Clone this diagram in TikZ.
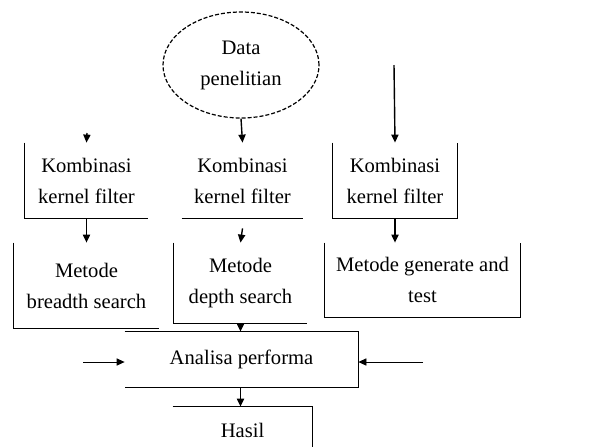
\documentclass[tikz,border=0pt]{standalone}
\usepackage{fontspec}
\setmainfont{Liberation Serif}
\usetikzlibrary{shapes.geometric, arrows.meta, positioning}
\tikzset{
  box/.style={rectangle, align=center, inner sep=0pt,
    font=\fontsize{10.3}{15.5}\selectfont},
  datanode/.style={ellipse, draw, dash pattern=on 2pt off 1pt,
    minimum width=78pt, minimum height=53pt, inner sep=0pt, align=center,
    font=\fontsize{10.3}{15.5}\selectfont, line width=0.6pt},
  arrow/.style={-{Triangle[length=4pt,width=3.6pt]}, line width=0.7pt},
  edge/.style={line width=0.8pt}
}
\begin{document}
\begin{tikzpicture}[x=0.5pt, y=-0.5pt]
  \useasboundingbox (0,0) rectangle (598,446);

  % Input data
  \node (data) at (241,65) [datanode] {Data\\penelitian};

  % Kernel filter combinations
  \node (kb1) at (86.5,180.5) [box, minimum width=61.5pt, minimum height=37.5pt] {Kombinasi\\kernel filter};
  \node (kb2) at (242.5,180.5) [box, minimum width=60.5pt, minimum height=37.5pt] {Kombinasi\\kernel filter};
  \node (kb3) at (395,180.5) [box, minimum width=62pt, minimum height=37.5pt] {Kombinasi\\kernel filter};

  % Search methods
  \node (mt1) at (86.5,285.5) [box, minimum width=72.5pt, minimum height=42.5pt] {Metode\\breadth search};
  \node (mt2) at (240.5,283) [box, minimum width=66.5pt, minimum height=40pt] {Metode\\depth search};
  \node (mt3) at (422.5,280) [box, minimum width=97.5pt, minimum height=37pt] {Metode generate and\\test};

  % Analysis and result
  \node (anl) at (241.5,359.5) [box, minimum width=116.5pt, minimum height=27.5pt] {Analisa performa};
  \node (hsl) at (242.5,430) [box, minimum width=69.5pt, minimum height=23pt] {Hasil};

  % Free arrow ends
  \coordinate (in1) at (87,133);
  \coordinate (in3) at (394,65);
  \coordinate (inL) at (83,362);
  \coordinate (inR) at (423,362);

  % Visible box edges
  \draw[edge] (kb1.north west) |- (kb1.south east);
  \draw[edge] (kb2.south west) -- (kb2.south east);
  \draw[edge] (kb3.north west) |- (kb3.south east) -- (kb3.north east);
  \draw[edge] (mt1.north west) |- (mt1.south east);
  \draw[edge] (mt2.north west) |- (mt2.south east);
  \draw[edge] (mt3.north west) |- (mt3.south east) -- (mt3.north east);
  \draw[edge] (anl.north west) -| (anl.south east) -- (anl.south west);
  \draw[edge] (hsl.north west) -| (hsl.south east);

  % Flow arrows
  \draw[arrow] (in1) -- (kb1.north);
  \draw[arrow] (data.south) -- (kb2.north);
  \draw[arrow] (in3) -- (kb3.north);
  \draw[arrow] (kb1.south) -- (mt1.north);
  \draw[arrow] (kb2.south) ++(0,10) -- (mt2.north);
  \draw[arrow] (kb3.south) -- (kb3.south |- mt3.north);
  \draw[arrow] (mt2.south) -- (mt2.south |- anl.north);
  \draw[arrow, line width=0.4pt] (inL) -- (inL -| anl.west);
  \draw[arrow, line width=0.4pt] (inR) -- (inR -| anl.east);
  \draw[arrow] (anl.south -| mt2.south) -- (hsl.north -| mt2.south);
\end{tikzpicture}
\end{document}
